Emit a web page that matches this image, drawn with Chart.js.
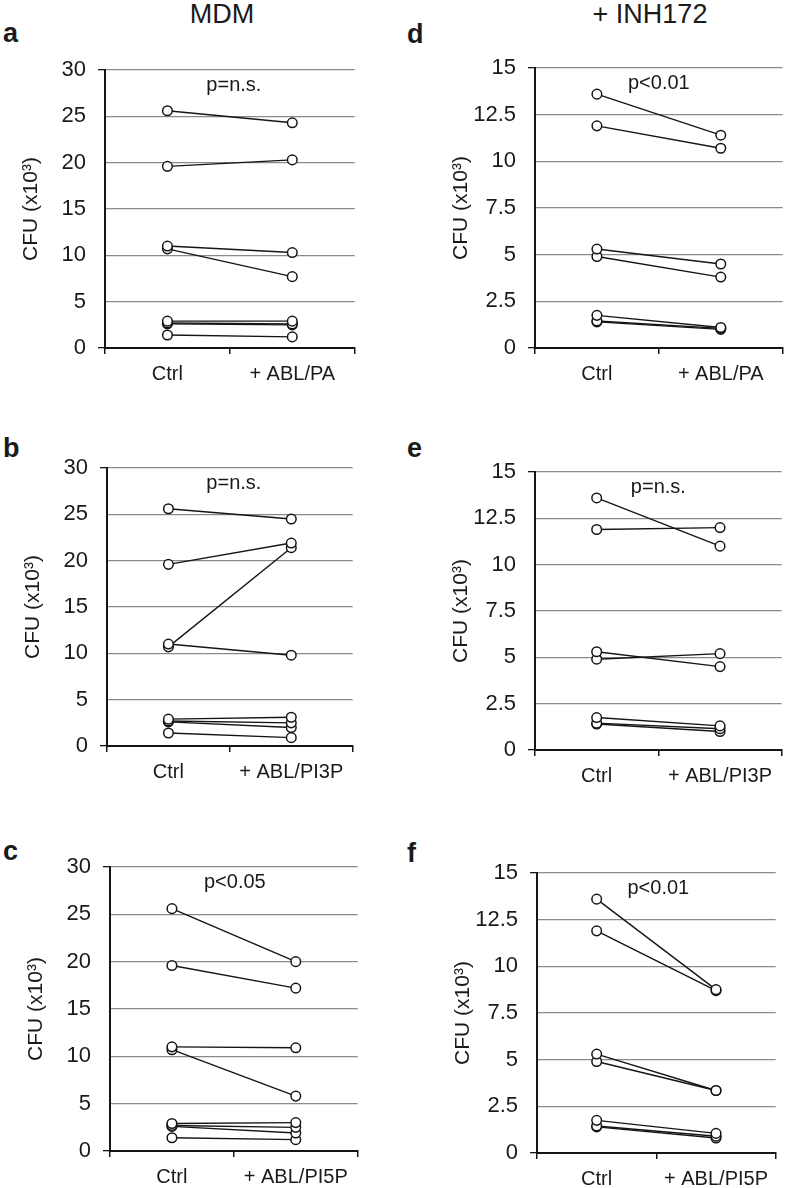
<!DOCTYPE html>
<html>
<head>
<meta charset="utf-8">
<script src="https://cdn.jsdelivr.net/npm/chart.js@4.4.1/dist/chart.umd.min.js"></script>
<style>
  body { margin: 0; background: #fff; width: 787px; height: 1188px; position: relative; overflow: hidden;
         font-family: 'Liberation Sans', Arial, sans-serif; color: #1a1a1a; }
  .box { position: absolute; }
  .letter { position: absolute; font-weight: bold; font-size: 27px; line-height: 27px; }
  .col { position: absolute; font-size: 27px; line-height: 27px; transform: translateX(-50%); white-space: nowrap; }
</style>
</head>
<body>
<div class="col" style="left:222px;top:1px">MDM</div>
<div class="col" style="left:650px;top:1px">+ INH172</div>
<div class="letter" style="left:3px;top:20px">a</div>
<div class="letter" style="left:407px;top:21px">d</div>
<div class="letter" style="left:3px;top:435px">b</div>
<div class="letter" style="left:407px;top:435px">e</div>
<div class="letter" style="left:3px;top:838px">c</div>
<div class="letter" style="left:407px;top:840px">f</div>
<script>
// categories
const catsPA = ['Ctrl', '+ ABL/PA'];
const catsPI3P = ['Ctrl', '+ ABL/PI3P'];
const catsPI5P = ['Ctrl', '+ ABL/PI5P'];

// tick labels
const mdmTicks = [0, 5, 10, 15, 20, 25, 30];
const inhTicks = [0, 2.5, 5, 7.5, 10, 12.5, 15];

// MDM, CFU x10^3, one entry per donor
const mdmCtrl = [25.6, 19.6, 11.0, 10.7, 2.9, 2.7, 2.6, 1.4];
const mdmPA = [24.3, 20.3, 10.3, 7.7, 2.9, 2.6, 2.5, 1.2];
const mdmPI3P = [24.5, 21.9, 9.8, 21.4, 3.1, 2.5, 2.0, 0.9];
const mdmPI5P = [20.0, 17.2, 10.9, 5.8, 3.0, 2.5, 1.9, 1.2];

// + INH172
const inhCtrl = [13.6, 11.9, 5.3, 4.9, 1.75, 1.45, 1.4];
const inhPA = [11.4, 10.7, 4.5, 3.8, 1.1, 1.05, 1.0];
const inhPI3P = [11.0, 12.0, 4.5, 5.2, 1.3, 1.15, 1.0];
const inhPI5P = [8.75, 8.7, 3.35, 3.35, 1.05, 0.9, 0.8];

const pLabels = ['p=n.s.', 'p=n.s.', 'p<0.05', 'p<0.01', 'p=n.s.', 'p<0.01'];

Chart.defaults.font.family = "'Liberation Sans', Arial, sans-serif";
Chart.defaults.color = '#1a1a1a';

const Y_W = 100, X_H = 45, PAD_T = 16, PAD_R = 4;

const pText = {
  id: 'pText',
  afterDatasetsDraw(chart, args, opts) {
    const { ctx, chartArea } = chart;
    ctx.save();
    ctx.font = "20px 'Liberation Sans', Arial, sans-serif";
    ctx.fillStyle = '#1a1a1a';
    ctx.textAlign = 'center';
    ctx.textBaseline = 'middle';
    ctx.fillText(opts.text, (chartArea.left + chartArea.right) / 2 + (opts.dx || 0), chartArea.top + 15);
    ctx.restore();
  }
};

// plot boxes: left, top, right, bottom
const panels = [
  { box: [105, 70, 357, 348], cats: catsPA, ctrl: mdmCtrl, trt: mdmPA, ticks: mdmTicks, p: pLabels[0], dx: 4 },
  { box: [107, 468, 355, 746], cats: catsPI3P, ctrl: mdmCtrl, trt: mdmPI3P, ticks: mdmTicks, p: pLabels[1], dx: 4 },
  { box: [110, 867, 360, 1151], cats: catsPI5P, ctrl: mdmCtrl, trt: mdmPI5P, ticks: mdmTicks, p: pLabels[2], dx: 1 },
  { box: [535, 68, 785, 348], cats: catsPA, ctrl: inhCtrl, trt: inhPA, ticks: inhTicks, p: pLabels[3], dx: 0 },
  { box: [535, 472, 784, 750], cats: catsPI3P, ctrl: inhCtrl, trt: inhPI3P, ticks: inhTicks, p: pLabels[4], dx: 0 },
  { box: [537, 873, 778, 1153], cats: catsPI5P, ctrl: inhCtrl, trt: inhPI5P, ticks: inhTicks, p: pLabels[5], dx: 2 }
];

panels.forEach(p => {
  const [l, t, r, b] = p.box;
  const div = document.createElement('div');
  div.className = 'box';
  div.style.left = (l - Y_W) + 'px';
  div.style.top = (t - PAD_T) + 'px';
  div.style.width = (r - l + Y_W + PAD_R) + 'px';
  div.style.height = (b - t + PAD_T + X_H) + 'px';
  const cv = document.createElement('canvas');
  div.appendChild(cv);
  document.body.appendChild(div);

  const datasets = p.ctrl.map((c, i) => ({
    data: [c, p.trt[i]],
    borderColor: '#151515',
    borderWidth: 1.4,
    pointRadius: 4.8,
    pointBackgroundColor: '#fff',
    pointBorderColor: '#151515',
    pointBorderWidth: 1.5,
    tension: 0
  }));
  const last = p.ticks.length - 1;

  new Chart(cv, {
    type: 'line',
    data: { labels: p.cats, datasets },
    plugins: [pText],
    options: {
      responsive: true,
      maintainAspectRatio: false,
      animation: false,
      layout: { padding: { top: PAD_T, right: PAD_R, left: 0, bottom: 0 } },
      plugins: {
        legend: { display: false },
        tooltip: { enabled: false },
        pText: { text: p.p, dx: p.dx }
      },
      scales: {
        x: {
          offset: true,
          grid: { offset: true, drawOnChartArea: false, drawTicks: true, tickLength: 6, color: '#151515', lineWidth: 1.5 },
          border: { display: true, color: '#151515', width: 2 },
          ticks: { font: { size: 20 }, padding: 8, maxRotation: 0, autoSkip: false },
          afterFit: s => { s.height = X_H; s.paddingLeft = 0; s.paddingRight = 0; }
        },
        y: {
          min: p.ticks[0],
          max: p.ticks[last],
          afterBuildTicks: s => { s.ticks = p.ticks.map(v => ({ value: v })); },
          grid: {
            color: '#8a8a8a', lineWidth: 1.3, tickLength: 7,
            tickColor: ctx => (ctx.index === 0 || ctx.index === last) ? '#151515' : 'rgba(0,0,0,0)'
          },
          border: { color: '#151515', width: 2 },
          ticks: { font: { size: 22 }, padding: 12 },
          title: { display: true, text: 'CFU (x10³)', font: { size: 21 }, padding: { top: 14, bottom: 0 } },
          afterFit: s => { s.width = Y_W; s.paddingTop = 0; s.paddingBottom = 0; }
        }
      }
    }
  });
});
</script>
</body>
</html>
